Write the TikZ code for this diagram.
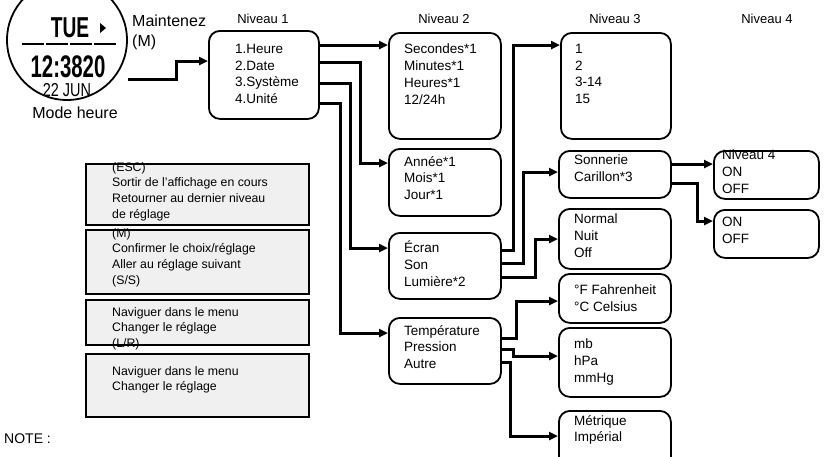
\documentclass[tikz,border=0pt]{standalone}
\usepackage{fontspec}
\setmainfont{Liberation Sans}
\usetikzlibrary{arrows.meta}
\tikzset{
  box/.style={draw, line width=1.8pt, rounded corners=11pt, anchor=north west, inner sep=0pt},
  txt/.style={anchor=north west, align=left, inner sep=0pt, font=\fontsize{13.5}{16.7}\selectfont},
  key/.style={draw, line width=1.8pt, fill=gray!12, anchor=north west, inner sep=0pt},
  keytxt/.style={anchor=north west, align=left, inner sep=0pt, font=\fontsize{12.3}{15.8}\selectfont},
  lvl/.style={font=\fontsize{13}{14}\selectfont},
  link/.style={line width=3pt, -{Triangle[length=9pt,width=8pt]}}
}
\begin{document}
\begin{tikzpicture}[x=1pt,y=-1pt]
  \useasboundingbox (0,0) rectangle (826,456);

  % watch
  \node[draw, circle, line width=1.8pt, minimum size=120pt, inner sep=0pt] (watch) at (67,40) {};
  \node[font=\bfseries\fontsize{24}{24}\selectfont] (day) at (70,28) {\scalebox{0.8}[1.2]{TUE}};
  \fill (100,23) -- (106,28) -- (100,33) -- cycle;
  \draw[line width=1.8pt, dash pattern=on 22pt off 2pt] (22,44) -- (117,44);
  \node[font=\bfseries\fontsize{24}{24}\selectfont] (time) at (68,67) {\scalebox{0.85}[1.3]{12:3820}};
  \node[font=\fontsize{17}{17}\selectfont] (date) at (67,90) {\scalebox{0.85}[1.1]{22 JUN}};
  \node[font=\fontsize{16}{16}\selectfont] (mode) at (75,113) {Mode heure};
  \node[anchor=north west, align=left, inner sep=0pt, font=\fontsize{16}{20}\selectfont] (hold) at (132,15) {Maintenez\\(M)};

  % level titles
  \node[lvl] at (263,19) {Niveau 1};
  \node[lvl] at (444,19) {Niveau 2};
  \node[lvl] at (615,19) {Niveau 3};
  \node[lvl] at (767,19) {Niveau 4};

  % level 1
  \node[box, minimum width=110pt, minimum height=88pt] (n1) at (208,30) {};
  \node[txt] at (235,44) {1.Heure\\2.Date\\3.Système\\4.Unité};

  % level 2
  \node[box, minimum width=112pt, minimum height=106pt] (n2a) at (388,32) {};
  \node[txt] at (404,44) {Secondes*1\\Minutes*1\\Heures*1\\12/24h};
  \node[box, minimum width=112pt, minimum height=67pt] (n2b) at (388,148) {};
  \node[txt] at (404,156) {Année*1\\Mois*1\\Jour*1};
  \node[box, minimum width=112pt, minimum height=66pt] (n2c) at (388,232) {};
  \node[txt] at (404,241) {Écran\\Son\\Lumière*2};
  \node[box, minimum width=112pt, minimum height=66pt] (n2d) at (388,317) {};
  \node[txt] at (404,325) {Température\\Pression\\Autre};

  % level 3
  \node[box, minimum width=110pt, minimum height=106pt] (n3a) at (560,32) {};
  \node[txt] at (575,44) {1\\2\\3-14\\15};
  \node[box, minimum width=112pt, minimum height=47pt] (n3b) at (558,150) {};
  \node[txt] at (574,155) {Sonnerie\\Carillon*3};
  \node[box, minimum width=112pt, minimum height=60pt] (n3c) at (558,208) {};
  \node[txt] at (574,214) {Normal\\Nuit\\Off};
  \node[box, minimum width=112pt, minimum height=49pt] (n3d) at (558,273) {};
  \node[txt] at (574,285) {°F Fahrenheit\\°C Celsius};
  \node[box, minimum width=112pt, minimum height=69pt] (n3e) at (558,327) {};
  \node[txt] at (574,339) {mb\\hPa\\mmHg};
  \node[box, minimum width=112pt, minimum height=60pt] (n3f) at (558,410) {};
  \node[txt] at (574,415) {Métrique\\Impérial};

  % level 4
  \node[box, minimum width=105pt, minimum height=48pt] (n4a) at (713,150) {};
  \node[txt] at (722,150) {Niveau 4\\ON\\OFF};
  \node[box, minimum width=105pt, minimum height=48pt] (n4b) at (713,209) {};
  \node[txt] at (722,217) {ON\\OFF};

  % keys
  \node[key, minimum width=223pt, minimum height=61pt] (k1) at (85,163) {};
  \node[keytxt] at (112,162) {(ESC)\\Sortir de l'affichage en cours\\Retourner au dernier niveau\\de réglage};
  \node[key, minimum width=223pt, minimum height=64pt] (k2) at (85,229) {};
  \node[keytxt] at (112,228) {(M)\\Confirmer le choix/réglage\\Aller au réglage suivant\\(S/S)};
  \node[key, minimum width=223pt, minimum height=45pt] (k3) at (85,299) {};
  \node[keytxt] at (112,307) {Naviguer dans le menu\\Changer le réglage\\(L/R)};
  \node[key, minimum width=223pt, minimum height=63pt] (k4) at (85,353) {};
  \node[keytxt] at (112,366) {Naviguer dans le menu\\Changer le réglage};
  \node[anchor=west, inner sep=0pt, font=\fontsize{14}{14}\selectfont] (note) at (4,439) {NOTE :};

  % links
  \draw[link] (watch.east |- 0,79) -- (176,79) -- (176,61) -- (n1.west |- 0,61);
  \draw[link] (n1.east |- 0,45) -- (n2a.west |- 0,45);
  \draw[link] (n1.east |- 0,62) -- (360,62) -- (360,163) -- (n2b.west |- 0,163);
  \draw[link] (n1.east |- 0,83) -- (350,83) -- (350,248) -- (n2c.west |- 0,248);
  \draw[link] (n1.east |- 0,103) -- (340,103) -- (340,333) -- (n2d.west |- 0,333);
  \draw[link] (n2c.east |- 0,250) -- (513,250) -- (513,45) -- (n3a.west |- 0,45);
  \draw[link] (n2c.east |- 0,263) -- (523,263) -- (523,172) -- (n3b.west |- 0,172);
  \draw[link] (n2c.east |- 0,277) -- (535,277) -- (535,239) -- (n3c.west |- 0,239);
  \draw[link] (n2d.east |- 0,338) -- (516,338) -- (516,301) -- (n3d.west |- 0,301);
  \draw[link] (n2d.east |- 0,349) -- (513,349) -- (513,356) -- (n3e.west |- 0,356);
  \draw[link] (n2d.east |- 0,362) -- (510,362) -- (510,436) -- (n3f.west |- 0,436);
  \draw[link] (n3b.east |- 0,164) -- (n4a.west |- 0,164);
  \draw[link] (n3b.east |- 0,183) -- (697,183) -- (697,221) -- (n4b.west |- 0,221);
\end{tikzpicture}
\end{document}
